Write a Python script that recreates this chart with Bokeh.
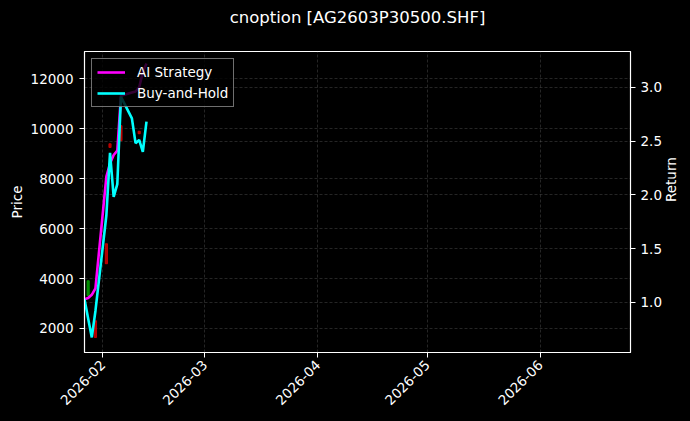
import math
import pandas as pd
from bokeh.plotting import figure
from bokeh.models import (Range1d, LinearAxis, Grid, FixedTicker, DatetimeTickFormatter,
                          PrintfTickFormatter, Legend, LegendItem, Title)
from bokeh.embed import file_html
from bokeh.resources import INLINE

# ---------------- data ----------------
chart_title = "cnoption [AG2603P30500.SHF]"
dates = ["2026-01-27", "2026-01-28", "2026-01-29", "2026-01-30", "2026-02-02",
         "2026-02-03", "2026-02-04", "2026-02-05", "2026-02-06", "2026-02-09",
         "2026-02-10", "2026-02-11", "2026-02-12", "2026-02-13"]
ai_strategy = [1.03, 1.04, 1.07, 1.13, 2.17, 2.29, 2.37, 2.41, 2.92, 2.95, 2.96, 3.00, 3.14, 3.22]
buy_and_hold = [1.03, 0.85, 0.674, 0.92, 1.81, 2.39, 1.98, 2.10, 2.91, 2.71, 2.48, 2.51, 2.40, 2.68]

candle_dates = ["2026-01-28", "2026-01-30", "2026-02-02", "2026-02-03", "2026-02-06", "2026-02-11"]
candle_open = [3311, 2309, 5395, 9400, 10124, 9900]
candle_close = [3912, 1639, 4593, 9250, 9523, 9800]

month_ticks = ["2026-02", "2026-03", "2026-04", "2026-05", "2026-06"]
price_ticks = [2000, 4000, 6000, 8000, 10000, 12000]
return_ticks = [1.0, 1.5, 2.0, 2.5, 3.0]
x_limits = ["2026-01-27 00:00", "2026-06-25 18:00"]
price_limits = [1038, 13094]
return_limits = [0.534, 3.332]

# ---------------- helpers ----------------
def ms(s):
    return pd.Timestamp(s).value / 1e6

FONT = "DejaVu Sans"
WHITE = "white"
DAY_MS = 86400000

x_dates = pd.to_datetime(dates)
c_dates = pd.to_datetime(candle_dates)
c_top = [max(o, c) for o, c in zip(candle_open, candle_close)]
c_bot = [min(o, c) for o, c in zip(candle_open, candle_close)]
c_col = ["#00a000" if c >= o else "#d00000" for o, c in zip(candle_open, candle_close)]

p = figure(width=690, height=421, x_axis_type="datetime",
           x_range=Range1d(ms(x_limits[0]), ms(x_limits[1])),
           y_range=Range1d(*price_limits),
           output_backend="svg", toolbar_location=None,
           min_border_left=84, min_border_right=60, min_border_top=51, min_border_bottom=69,
           background_fill_color="black", border_fill_color="black",
           outline_line_color=WHITE, outline_line_width=1.2)
p.extra_y_ranges = {"ret": Range1d(*return_limits)}

# main title (outermost in the top panel)
p.title.text = chart_title
p.title.align = "center"
p.title.text_color = WHITE
p.title.text_font = FONT
p.title.text_font_size = "16.5px"
p.title.text_font_style = "normal"
p.title.standoff = 4

# spacer between title and frame
spacer = Title(text=" ", text_font_size="1px", standoff=20, text_color="black")
p.add_layout(spacer, "above")

# candles (price axis)
p.vbar(x=c_dates, width=0.6 * DAY_MS, top=c_top, bottom=c_bot,
       fill_color=c_col, line_color=c_col, fill_alpha=0.85, line_alpha=0.85)

# strategy lines (return axis)
r_ai = p.line(x_dates, ai_strategy, y_range_name="ret", line_color="#ff00ff", line_width=2.6)
r_bh = p.line(x_dates, buy_and_hold, y_range_name="ret", line_color="#00ffff", line_width=2.6)

# axes styling
def style_axis(ax):
    ax.axis_line_color = WHITE
    ax.major_tick_line_color = WHITE
    ax.major_tick_out = 5
    ax.major_tick_in = 0
    ax.minor_tick_line_color = None
    ax.major_label_text_color = WHITE
    ax.major_label_text_font = FONT
    ax.major_label_text_font_size = "13.5px"
    ax.axis_label_text_color = WHITE
    ax.axis_label_text_font = FONT
    ax.axis_label_text_font_size = "13.5px"
    ax.axis_label_text_font_style = "normal"

xax = p.xaxis[0]
xax.ticker = FixedTicker(ticks=[ms(t) for t in month_ticks])
fmt = "%Y-%m"
xax.formatter = DatetimeTickFormatter(years=fmt, months=fmt, days=fmt, hours=fmt,
                                      minutes=fmt, seconds=fmt, milliseconds=fmt,
                                      microseconds=fmt, hourmin=fmt, minsec=fmt)
xax.major_label_orientation = math.pi / 4
xax.major_label_standoff = 5
style_axis(xax)

yax = p.yaxis[0]
yax.ticker = FixedTicker(ticks=price_ticks)
yax.formatter = PrintfTickFormatter(format="%d")
yax.axis_label = "Price"
yax.axis_label_standoff = 3
yax.major_label_standoff = 6
style_axis(yax)

rax = LinearAxis(y_range_name="ret", axis_label="Return",
                 ticker=FixedTicker(ticks=return_ticks),
                 formatter=PrintfTickFormatter(format="%.1f"))
rax.axis_label_standoff = 6
rax.major_label_standoff = 5
rax.axis_label_orientation = math.pi / 2
style_axis(rax)
p.add_layout(rax, "right")

# grids
for g in (p.xgrid[0], p.ygrid[0]):
    g.grid_line_color = "#8a8a8a"
    g.grid_line_alpha = 0.45
    g.grid_line_dash = "3 2"
    g.grid_line_width = 0.6
g2 = Grid(dimension=1, ticker=rax.ticker, y_range_name="ret",
          grid_line_color="#8a8a8a", grid_line_alpha=0.45,
          grid_line_dash="3 2", grid_line_width=0.6)
p.add_layout(g2)

legend = Legend(items=[LegendItem(label="AI Strategy", renderers=[r_ai]),
                       LegendItem(label="Buy-and-Hold", renderers=[r_bh])],
                location="top_left", margin=7, padding=5, spacing=5,
                glyph_width=28, glyph_height=16, label_height=16, label_standoff=12,
                background_fill_color="black", background_fill_alpha=0.8,
                border_line_color="#dddddd", border_line_width=1,
                label_text_color=WHITE, label_text_font=FONT, label_text_font_size="13.5px")
p.add_layout(legend)

html = file_html(p, INLINE)
html = html.replace("<body>", '<body style="background-color:#000000;">')
open("out.html", "w").write(html)
